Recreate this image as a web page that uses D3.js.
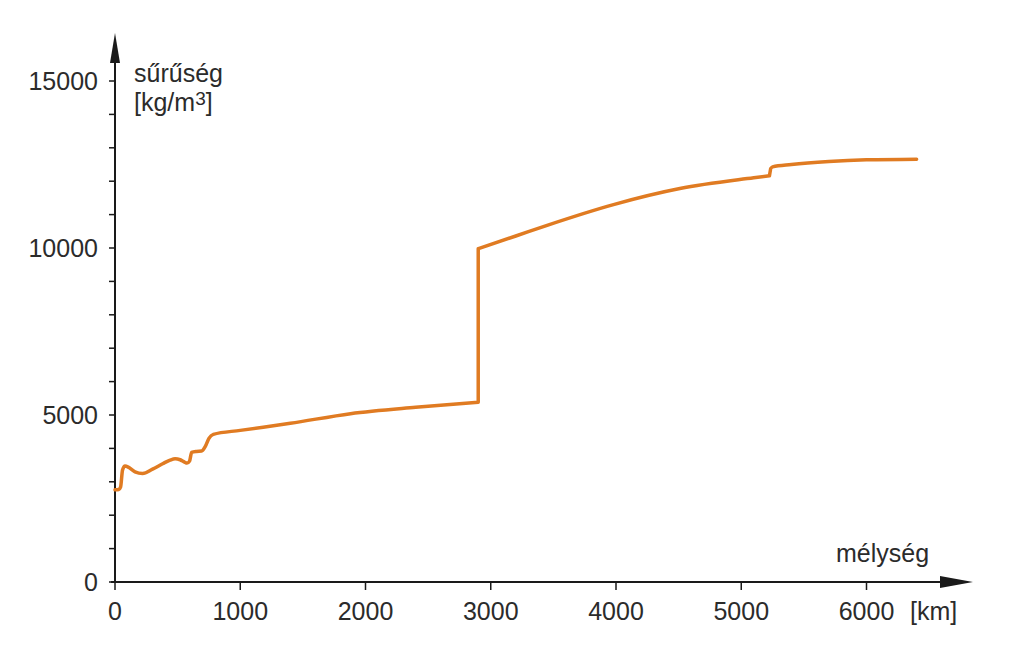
<!DOCTYPE html>
<html>
<head>
<meta charset="utf-8">
<script src="https://cdn.jsdelivr.net/npm/d3@7"></script>
<style>
  body { margin: 0; background: #fff; }
  text { font-family: "Liberation Sans", Arial, sans-serif; fill: #2b2b2b; }
</style>
</head>
<body>
<div id="chart"></div>
<script>
// depth [km] and density [kg/m3], one array per layer
var mantleDepth = [0, 30, 45, 60, 80, 110, 160, 220, 300, 380, 440, 480, 520, 555, 575, 595, 612, 650, 692, 720, 750, 785, 1000, 1400, 1880, 2400, 2900];
var mantleDensity = [2760, 2770, 2850, 3350, 3470, 3430, 3300, 3250, 3380, 3540, 3650, 3690, 3660, 3590, 3560, 3620, 3880, 3910, 3920, 4050, 4300, 4420, 4540, 4750, 5040, 5230, 5380];
var outerDepth = [2900, 3200, 3450, 3980, 4510, 5100, 5225];
var outerDensity = [9980, 10360, 10680, 11300, 11780, 12100, 12160];
var innerDepth = [5235, 5250, 5400, 5700, 6000, 6400];
var innerDensity = [12380, 12430, 12500, 12590, 12640, 12660];

var xTicks = [0, 1000, 2000, 3000, 4000, 5000, 6000];
var yTicks = [0, 5000, 10000, 15000];
var yMinor = d3.range(0, 16000, 1000);

var width = 1012, height = 661;
var margin = { left: 115, bottom: 79 };

var svg = d3.select("#chart").append("svg")
    .attr("width", width)
    .attr("height", height);

var xScale = d3.scaleLinear()
    .domain([0, 6000])
    .range([margin.left, margin.left + 751.5]);

var yScale = d3.scaleLinear()
    .domain([0, 15000])
    .range([height - margin.bottom, 81]);

var axisColor = "#1a1a1a";
var y0 = yScale(0), x0 = xScale(0);

// axes with arrows
svg.append("line")
    .attr("x1", x0).attr("y1", y0 + 1)
    .attr("x2", x0).attr("y2", 55)
    .attr("stroke", axisColor).attr("stroke-width", 2);
svg.append("path")
    .attr("d", "M" + x0 + ",33 L" + (x0 - 5) + ",63 L" + (x0 + 5) + ",63 Z")
    .attr("fill", axisColor);

svg.append("line")
    .attr("x1", x0 - 4).attr("y1", y0)
    .attr("x2", 950).attr("y2", y0)
    .attr("stroke", axisColor).attr("stroke-width", 2);
svg.append("path")
    .attr("d", "M973," + y0 + " L940," + (y0 - 6) + " L940," + (y0 + 6) + " Z")
    .attr("fill", axisColor);

// y ticks
svg.append("g").selectAll("line")
    .data(yMinor)
    .enter().append("line")
    .attr("x1", x0 - 6).attr("x2", x0)
    .attr("y1", function (d) { return yScale(d); })
    .attr("y2", function (d) { return yScale(d); })
    .attr("stroke", axisColor).attr("stroke-width", 1.5);

svg.append("g").selectAll("text")
    .data(yTicks)
    .enter().append("text")
    .attr("x", x0 - 17)
    .attr("y", function (d) { return yScale(d); })
    .attr("dy", "0.36em")
    .attr("text-anchor", "end")
    .attr("font-size", 25)
    .text(function (d) { return d; });

// x ticks
svg.append("g").selectAll("line")
    .data(xTicks)
    .enter().append("line")
    .attr("x1", function (d) { return xScale(d); })
    .attr("x2", function (d) { return xScale(d); })
    .attr("y1", y0).attr("y2", y0 + 8)
    .attr("stroke", axisColor).attr("stroke-width", 1.5);

svg.append("g").selectAll("text")
    .data(xTicks)
    .enter().append("text")
    .attr("x", function (d) { return xScale(d); })
    .attr("y", 620)
    .attr("text-anchor", "middle")
    .attr("font-size", 25)
    .text(function (d) { return d; });

// axis titles
svg.append("text").attr("x", 134).attr("y", 82).attr("font-size", 25).text("sűrűség");
var unit = svg.append("text").attr("x", 134).attr("y", 111).attr("font-size", 25);
unit.append("tspan").text("[kg/m");
unit.append("tspan").attr("dy", -6).attr("font-size", 19).text("3");
unit.append("tspan").attr("dy", 6).text("]");

svg.append("text").attr("x", 836).attr("y", 562).attr("font-size", 25).text("mélység");
svg.append("text").attr("x", 910).attr("y", 620).attr("font-size", 25).text("[km]");

// density curve: each layer smoothed, joined by the vertical jumps
var line = d3.line()
    .x(function (d) { return xScale(d[0]); })
    .y(function (d) { return yScale(d[1]); })
    .curve(d3.curveMonotoneX);

var layers = [
    d3.zip(mantleDepth, mantleDensity),
    d3.zip(outerDepth, outerDensity),
    d3.zip(innerDepth, innerDensity)
];
var pathD = layers.map(function (l, i) {
    var s = line(l);
    return i === 0 ? s : "L" + s.slice(1);
}).join("");

svg.append("path")
    .attr("d", pathD)
    .attr("fill", "none")
    .attr("stroke", "#e07b22")
    .attr("stroke-width", 3.5)
    .attr("stroke-linejoin", "round")
    .attr("stroke-linecap", "round");
</script>
</body>
</html>
